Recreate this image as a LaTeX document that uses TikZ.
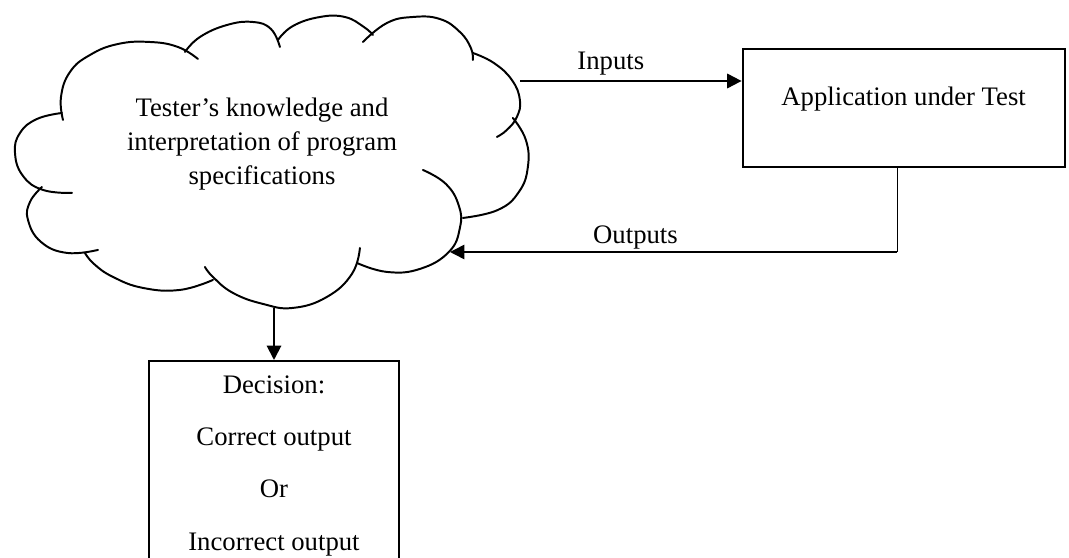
\documentclass[tikz,border=0pt]{standalone}
\usepackage{fontspec}
\setmainfont{Liberation Serif}
\usepackage{tikz}
\usetikzlibrary{arrows.meta}
\tikzstyle{puff} = [line width=1.4pt, line cap=round, smooth, tension=0.75]
\tikzstyle{blockapp} = [rectangle, draw, line width=1.4pt, minimum width=8.05cm, minimum height=2.95cm, text depth=0.55cm]
\tikzstyle{blockdec} = [rectangle, draw, line width=1.4pt, minimum width=6.25cm, minimum height=5.25cm, align=center, font=\fontsize{19}{37}\selectfont]
\tikzstyle{blank} = [inner sep=0,outer sep=0]
\tikzstyle{line} = [draw, line width=1.4pt, -{Triangle[length=3.6mm,width=3.6mm]}]

\begin{document}
\begin{tikzpicture}[font=\fontsize{19}{24}\selectfont]
\useasboundingbox (0,0) rectangle (26.725,-13.95);

% cloud outline, one arc per puff (pixel grid)
\begin{scope}[x=0.025cm, y=-0.025cm, puff]
\draw plot coordinates {(63,120) (61,97) (70,72) (90,55) (118,44) (150,42) (178,47) (198,59)};
\draw plot coordinates {(185,52) (200,37) (227,25) (253,22) (271,29) (280,47)};
\draw plot coordinates {(278,40) (293,26) (320,17) (345,17) (364,27) (373,35)};
\draw plot coordinates {(363,42) (387,23) (413,17) (440,19) (460,32) (471,48) (473,60)};
\draw plot coordinates {(473,53) (494,63) (512,80) (520,100) (517,117) (507,130) (497,137)};
\draw plot coordinates {(513,118) (526,140) (528,167) (519,192) (498,210) (463,218)};
\draw plot coordinates {(423,170) (446,184) (459,206) (460,228) (449,252) (420,269) (387,272) (357,263)};
\draw plot coordinates {(360,248) (352,274) (327,297) (293,308) (263,304) (233,293) (213,277) (205,267)};
\draw plot coordinates {(213,280) (180,290) (143,288) (113,277) (94,264) (85,253)};
\draw plot coordinates {(98,250) (67,253) (41,242) (28,220) (30,202) (42,187)};
\draw plot coordinates {(72,193) (43,190) (23,176) (15,153) (20,133) (37,119) (62,113)};
\end{scope}

\node [align=center] (T) at (6.55,-3.6) {Tester’s knowledge and\\interpretation of program\\specifications};
\node [blockapp] (A) at (22.59,-2.69) {Application under Test};
\node [blockdec, anchor=north] (D) at (6.85,-9.0) {Decision:\\Correct output\\Or\\Incorrect output};

\coordinate (0) at (13.0,-2.025);
\coordinate (1) at (22.425,-6.3);
\coordinate (2) at (11.25,-6.3);
\coordinate (3) at (6.85,-7.7);

\path [line] (0) -- node[above, pos=0.41] {Inputs} (A.west |- 0);
\draw [line width=0.7pt] (A.south -| 1) -- (1);
\path [line, line width=1.1pt] (1) -- node[above, pos=0.585, yshift=-2pt] {Outputs} (2);
\path [line] (3) -- (D.north);

\end{tikzpicture}
\end{document}
